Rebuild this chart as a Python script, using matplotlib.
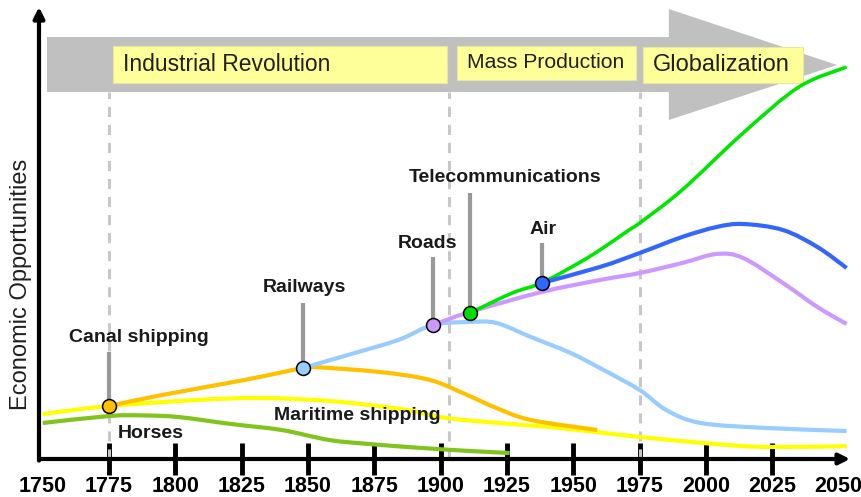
import matplotlib
matplotlib.use('Agg')
import matplotlib.pyplot as plt
from matplotlib.patches import Polygon, Rectangle, PathPatch
from matplotlib.path import Path
from matplotlib import font_manager

# Values (year, relative level of opportunity)
horses_years = [1750, 1775, 1787, 1801, 1821, 1840, 1858, 1873, 1893, 1911, 1926]
horses_vals = [9.0, 10.75, 10.9, 10.5, 8.75, 7.25, 4.75, 3.75, 2.75, 2.0, 1.5]

maritime_years = [1750, 1775, 1808, 1832, 1858, 1885, 1902, 1922, 1945, 1975, 2008, 2025, 2053]
maritime_vals = [11.25, 13.25, 14.75, 15.25, 14.5, 12.5, 10.25, 9.0, 7.75, 5.5, 3.5, 3.0, 3.2]

canal_years = [1775, 1795, 1826, 1848, 1852, 1877, 1896, 1910, 1921, 1934, 1959]
canal_vals = [13.25, 16.0, 19.75, 22.75, 23.0, 21.75, 19.75, 16.0, 12.75, 9.75, 7.25]

rail_years = [1848, 1865, 1884, 1897, 1911, 1921, 1934, 1949, 1960, 1975, 1985, 1998, 2023, 2053]
rail_vals = [22.75, 26.0, 29.75, 33.5, 34.25, 34.0, 30.5, 26.5, 22.75, 17.25, 12.25, 9.0, 7.75, 7.0]

roads_years = [1897, 1911, 1938, 1960, 1975, 1991, 2004, 2014, 2029, 2042, 2053]
roads_vals = [33.5, 36.75, 41.75, 44.75, 46.5, 49.0, 51.25, 50.25, 44.0, 38.0, 33.75]

telecom_years = [1911, 1927, 1938, 1952, 1960, 1971, 1975, 1991, 2014, 2035, 2053]
telecom_vals = [36.5, 41.5, 44.0, 49.0, 52.25, 57.25, 59.0, 67.25, 81.5, 93.0, 98.0]

air_years = [1938, 1960, 1975, 1991, 2004, 2014, 2029, 2042, 2053]
air_vals = [44.0, 48.0, 51.5, 55.5, 58.0, 58.75, 57.25, 53.0, 47.75]

tick_years = list(range(1750, 2051, 25))
era_names = ['Industrial Revolution', 'Mass Production', 'Globalization']
era_bounds = [1775, 1903, 1975]
mode_names = ['Canal shipping', 'Railways', 'Roads', 'Telecommunications', 'Air']


def smooth_line(ax, xs, ys, **kw):
    """Draw a smooth curve through the given points (Catmull-Rom as bezier path)."""
    pts = list(zip(xs, ys))
    verts = [pts[0]]
    codes = [Path.MOVETO]
    for i in range(len(pts) - 1):
        p0 = pts[i - 1] if i > 0 else pts[i]
        p1 = pts[i]
        p2 = pts[i + 1]
        p3 = pts[i + 2] if i + 2 < len(pts) else pts[i + 1]
        c1 = (p1[0] + (p2[0] - p0[0]) / 6, p1[1] + (p2[1] - p0[1]) / 6)
        c2 = (p2[0] - (p3[0] - p1[0]) / 6, p2[1] - (p3[1] - p1[1]) / 6)
        verts += [c1, c2, p2]
        codes += [Path.CURVE4] * 3
    ax.add_patch(PathPatch(Path(verts, codes), fill=False, capstyle='butt',
                           joinstyle='round', **kw))


fonts = {f.name for f in font_manager.fontManager.ttflist}
narrow = 'Liberation Sans Narrow' if 'Liberation Sans Narrow' in fonts else 'Liberation Sans'
plt.rcParams['font.family'] = ['Liberation Sans', 'DejaVu Sans']

fig = plt.figure(figsize=(8.62, 4.97), dpi=100)
ax = fig.add_axes([0, 0, 1, 1])
ax.set_xlim(1733.9, 2058.8)
ax.set_ylim(-9.5, 114.75)
for s in ax.spines.values():
    s.set_visible(False)
ax.spines['bottom'].set_position(('data', 0))
ax.set_yticks([])

# big grey arrow with the eras
arrow = Polygon([(1751.6, 105.5), (1986.0, 105.5), (1986.0, 112.5), (2049.4, 98.5),
                 (1986.0, 84.75), (1986.0, 91.75), (1751.6, 91.75)],
                closed=True, facecolor='#c0c0c0', edgecolor='none', zorder=1)
ax.add_patch(arrow)

boxes = [(1776.4, 1902.4, 94.0, 103.25, 16.5),
         (1906.2, 1973.7, 94.75, 103.25, 15.2),
         (1976.3, 2036.6, 94.0, 103.0, 17)]
for name, (x0, x1, y0, y1, fs) in zip(era_names, boxes):
    ax.add_patch(Rectangle((x0, y0), x1 - x0, y1 - y0, facecolor='#ffff99',
                           edgecolor='#e6e6a0', lw=0.8, zorder=2))
    ax.text(x0 + 3.8, (y0 + y1) / 2, name, fontsize=fs, color='#202020',
            ha='left', va='center', zorder=3)

for yr in era_bounds:
    ax.plot([yr, yr], [0, 91.75], color='#c8c8c8', lw=2.2, dashes=(3.3, 2.6), zorder=2)

# axes arrows
ax.annotate('', xy=(2054.3, 0), xytext=(1748.6, 0),
            arrowprops=dict(arrowstyle='-|>', lw=3, color='black', mutation_scale=16,
                            shrinkA=0, shrinkB=0), zorder=6)
ax.annotate('', xy=(1748.6, 113), xytext=(1748.6, -0.4),
            arrowprops=dict(arrowstyle='-|>', lw=3, color='black', mutation_scale=16,
                            shrinkA=0, shrinkB=0), zorder=6)

ax.set_xticks(tick_years)
ax.set_xticklabels([str(y) for y in tick_years], fontsize=15.5, fontweight='bold',
                   family=narrow)
ax.tick_params(axis='x', direction='inout', length=23, width=3.5, pad=0.5, color='black')
tl = ax.xaxis.get_major_ticks()
for t in (tl[0], tl[-1]):
    t.tick1line.set_visible(False)

ax.set_ylabel('Economic Opportunities', fontsize=17, color='#202020')
ax.yaxis.set_label_coords(0.037, 0.4286)

# mode curves
smooth_line(ax, horses_years, horses_vals, edgecolor='#82c31e', lw=3, zorder=4)
smooth_line(ax, maritime_years, maritime_vals, edgecolor='#ffff00', lw=3, zorder=4)
smooth_line(ax, canal_years, canal_vals, edgecolor='#ffc000', lw=3, zorder=4)
smooth_line(ax, rail_years, rail_vals, edgecolor='#99ccff', lw=3, zorder=4)
smooth_line(ax, roads_years, roads_vals, edgecolor='#cc99ff', lw=3, zorder=4)
smooth_line(ax, telecom_years, telecom_vals, edgecolor='#00e600', lw=2.6, zorder=5)
smooth_line(ax, air_years, air_vals, edgecolor='#3366ff', lw=3, zorder=5)

# leader lines, markers and labels
starts = [(canal_years[0], canal_vals[0], '#ffc000', 26.75),
          (rail_years[0], rail_vals[0], '#99ccff', 39.0),
          (roads_years[0], roads_vals[0], '#cc99ff', 50.5),
          (telecom_years[0], telecom_vals[0], '#00dd00', 66.5),
          (air_years[0], air_vals[0], '#3366ff', 54.0)]
label_pos = [(1786.3, 30.25), (1848.6, 42.75), (1895.2, 54.0), (1924.4, 70.25), (1938.6, 57.25)]
for name, (yr, val, col, top), (lx, ly) in zip(mode_names, starts, label_pos):
    ax.plot([yr, yr], [val, top], color='#999999', lw=3, zorder=3, solid_capstyle='butt')
    ax.plot(yr, val, 'o', ms=10, mfc=col, mec='black', mew=1.1, zorder=7)
    ax.text(lx, ly, name, fontsize=14, fontweight='bold', color='#1a1a1a',
            ha='center', va='center', zorder=8)

ax.text(1868.5, 11.0, 'Maritime shipping', fontsize=14, fontweight='bold',
        color='#1a1a1a', ha='center', va='center', zorder=8)
ax.text(1790.8, 6.25, 'Horses', fontsize=14, fontweight='bold',
        color='#1a1a1a', ha='center', va='center', zorder=8)

fig.savefig('out.png', dpi=100)
